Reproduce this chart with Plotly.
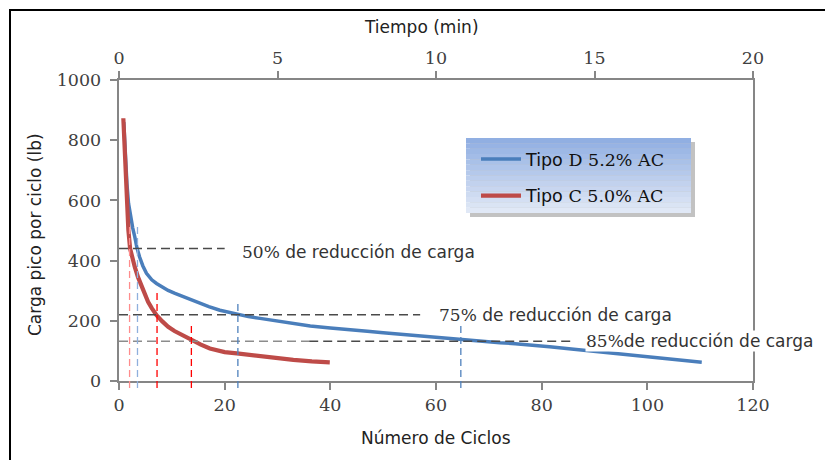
import plotly.graph_objects as go

# ---------------- data ----------------
ciclos_D = [0.9, 1.2, 1.5, 1.8, 2.2, 2.6, 3.0, 3.4, 3.9, 4.5, 5.2, 6.2, 7.1, 8.1, 9.3, 10.6,
            11.9, 13.1, 14.3, 15.6, 17.0, 19.1, 20.8, 22.6, 24.5, 26.7, 29.0, 31.1, 33.5,
            36.2, 40.0, 43.7, 47.0, 50.0, 53.2, 56.3, 59.5, 62.0, 64.7, 68.0, 72.1, 75.0,
            78.4, 81.5, 84.7, 88.0, 91.0, 94.0, 97.3, 100.5, 103.7, 106.0, 108.0, 110.3]
carga_D = [860, 740, 655, 590, 545, 508, 478, 442, 412, 383, 358, 336, 324, 313, 301, 291,
           282, 275, 266, 256, 247, 235, 228, 222, 214, 208, 202, 197, 190,
           183, 176, 169, 165, 160, 155, 150, 147, 142, 138, 133, 127, 124,
           120, 114, 108, 102, 97, 92, 86, 81, 75, 71, 67, 62]

ciclos_C = [0.82, 1.1, 1.45, 1.77, 2.1, 2.5, 3.0, 3.6, 4.3, 5.5, 6.2, 7.1, 8.2, 9.3, 10.5,
            11.9, 13.8, 15.5, 17.2, 18.6, 20.0, 22.3, 24.5, 26.7, 30.0, 33.0, 36.5, 39.9]
carga_C = [873, 760, 610, 502, 440, 408, 378, 345, 313, 263, 242, 219, 198, 180, 166,
           153, 136, 121, 108, 101, 96, 92, 87, 81, 75, 70, 65, 62]

tiempo_range = [0, 20]          # top axis (min)
ciclos_range = [0, 120]
carga_range = [0, 1000]

carga_inicial = 880
reducciones = [0.50, 0.75, 0.85]
etiquetas = ["50%", "75%", "85%"]
fin_horizontal = [20, 57, 86]            # end (cycles) of each horizontal dashed line
texto_x = [23.0, 60.4, 88.2]             # where each label starts (cycles)

# cycles at which each curve reaches the reduction levels, and top of the marker line
cruce_C = [2.0, 7.2, 13.7]
tope_C = [525, 292, 183]
cruce_D = [3.5, 22.5, 64.7]
tope_D = [518, 260, 186]

nombre_D = "Tipo <span style='font-family:DejaVu Serif'>D 5.2% AC</span>"
nombre_C = "Tipo <span style='font-family:DejaVu Serif'>C 5.0% AC</span>"

# ---------------- layout helpers ----------------
W, H = 825, 460
L, R, T, B = 119, 72, 80, 79
PW, PH = W - L - R, H - T - B
def px_x(p):
    return (p - L) / PW
def px_y(p):
    return (H - B - p) / PH

AX = "#868686"
TXT = "#404040"
SERIF = "DejaVu Serif"
SANS = "DejaVu Sans"

fig = go.Figure()
fig.add_trace(go.Scatter(x=ciclos_D, y=carga_D, mode="lines", name=nombre_D,
                         line=dict(color="#4A7EBB", width=3.5),
                         legendgroup="D"))
fig.add_trace(go.Scatter(x=ciclos_C, y=carga_C, mode="lines", name=nombre_C,
                         line=dict(color="#BE4B48", width=4.2),
                         legendgroup="C"))
# carrier for the time axis on top (no visible marks)
fig.add_trace(go.Scatter(x=tiempo_range, y=[None, None], xaxis="x2", mode="lines",
                         showlegend=False, hoverinfo="skip"))

shapes = []
niveles = [carga_inicial * (1 - r) for r in reducciones]
# horizontal dashed lines
for i, (lvl, xe) in enumerate(zip(niveles, fin_horizontal)):
    if i == 2:
        shapes.append(dict(type="line", xref="x", yref="y", x0=0, x1=36, y0=lvl, y1=lvl,
                           line=dict(color="#8C8C8C", width=1.5, dash="9px,5px"), layer="above"))
        shapes.append(dict(type="line", xref="x", yref="y", x0=36, x1=xe, y0=lvl, y1=lvl,
                           line=dict(color="#4A4A4A", width=1.5, dash="9px,5px"), layer="above"))
    else:
        shapes.append(dict(type="line", xref="x", yref="y", x0=0, x1=xe, y0=lvl, y1=lvl,
                           line=dict(color="#4A4A4A", width=1.5, dash="9px,5px"), layer="above"))

# vertical dashed markers (extend slightly below the axis)
y_bottom = -7 / PH
col_C = ["#FF8C8C", "#FF0000", "#FF0000"]
col_D = ["#8FB0DD", "#4F81BD", "#4F81BD"]
for xc, tp, c in zip(cruce_C, tope_C, col_C):
    shapes.append(dict(type="line", xref="x", yref="paper", x0=xc, x1=xc,
                       y0=y_bottom, y1=tp / carga_range[1],
                       line=dict(color=c, width=1.3, dash="7px,4px"), layer="above"))
for xc, tp, c in zip(cruce_D, tope_D, col_D):
    shapes.append(dict(type="line", xref="x", yref="paper", x0=xc, x1=xc,
                       y0=y_bottom, y1=tp / carga_range[1],
                       line=dict(color=c, width=1.3, dash="7px,4px"), layer="above"))

# legend background (gradient + shadow)
lx0, lx1, ly0, ly1 = 466, 691, 138, 213
shapes.append(dict(type="rect", xref="paper", yref="paper",
                   x0=px_x(lx0 + 4), x1=px_x(lx1 + 4), y0=px_y(ly1 + 4), y1=px_y(ly0 + 4),
                   fillcolor="rgba(120,120,120,0.45)", line=dict(width=0), layer="above"))
n = 14
top_c = (145, 175, 226)
bot_c = (224, 232, 246)
for k in range(n):
    f = k / (n - 1)
    c = tuple(int(round(top_c[j] + (bot_c[j] - top_c[j]) * f)) for j in range(3))
    ya = ly0 + (ly1 - ly0) * k / n
    yb = ly0 + (ly1 - ly0) * (k + 1) / n
    shapes.append(dict(type="rect", xref="paper", yref="paper",
                       x0=px_x(lx0), x1=px_x(lx1), y0=px_y(yb), y1=px_y(ya),
                       fillcolor="rgb(%d,%d,%d)" % c, line=dict(width=0), layer="above"))

# outer frame
shapes.append(dict(type="rect", xref="paper", yref="paper",
                   x0=px_x(10), x1=px_x(835), y0=px_y(470), y1=px_y(10),
                   line=dict(color="black", width=2), fillcolor="rgba(0,0,0,0)"))

annotations = []
for i, (lvl, xt, et) in enumerate(zip(niveles, texto_x, etiquetas)):
    sep = "" if i == 2 else " "
    annotations.append(dict(
        x=xt, y=lvl + (-12 if i == 0 else 0), xref="x", yref="y",
        xanchor="left", yanchor="middle", showarrow=False,
        text="<span style='font-family:%s'>%s</span>%sde reducción de carga" % (SERIF, et, sep),
        font=dict(family=SANS, size=17, color="#333333"),
        bgcolor="white" if i == 2 else None, borderpad=0))

title_font = dict(family=SANS, size=17, color="#222222")
annotations.append(dict(x=px_x(421), y=px_y(27), xref="paper", yref="paper",
                        xanchor="center", yanchor="middle",
                        text="Tiempo (min)", showarrow=False, font=title_font))
annotations.append(dict(x=px_x(436), y=px_y(438), xref="paper", yref="paper",
                        xanchor="center", yanchor="middle",
                        text="Número de Ciclos", showarrow=False, font=title_font))
annotations.append(dict(x=px_x(35), y=px_y(235), xref="paper", yref="paper",
                        xanchor="center", yanchor="middle",
                        text="Carga pico por ciclo (lb)", showarrow=False, textangle=-90,
                        font=title_font))

axis_common = dict(showgrid=False, zeroline=False, showline=True, linecolor=AX, linewidth=1.5,
                   ticks="outside", ticklen=7, tickcolor=AX, tickwidth=1.5,
                   tickfont=dict(family=SERIF, size=17.5, color=TXT))

fig.update_layout(
    width=W, height=H,
    margin=dict(l=L, r=R, t=T, b=B),
    paper_bgcolor="white", plot_bgcolor="white",
    showlegend=True,
    legend=dict(x=px_x(476), y=px_y(141), xanchor="left", yanchor="top",
                bgcolor="rgba(0,0,0,0)", borderwidth=0,
                font=dict(family=SANS, size=17.5, color="#111111"),
                tracegroupgap=11, itemwidth=40),
    xaxis=dict(range=ciclos_range, dtick=20, **axis_common),
    xaxis2=dict(range=tiempo_range, dtick=5, overlaying="x", side="top", anchor="y",
                **axis_common),
    yaxis=dict(range=carga_range, dtick=200, mirror=True, ticksuffix="\u00a0", **axis_common),
    shapes=shapes,
    annotations=annotations,
)

fig.write_html("out.html")
